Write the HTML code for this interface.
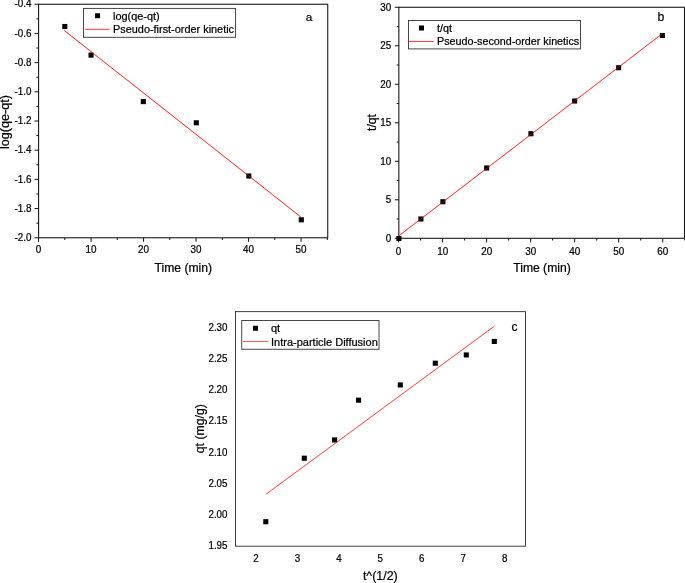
<!DOCTYPE html><html><head><meta charset="utf-8"><title>Kinetics</title>
<style>html,body{margin:0;padding:0;background:#fff}svg{display:block}text{font-family:"Liberation Sans",sans-serif;fill:#000;stroke:#000;stroke-width:0.22px}</style></head><body>
<svg width="685" height="583" viewBox="0 0 685 583">
<rect width="685" height="583" fill="#fff"/>
<rect x="38.60" y="4.23" width="289.15" height="233.54" fill="none" stroke="#111" stroke-width="1.05"/>
<line x1="38.55" y1="237.77" x2="38.55" y2="241.87" stroke="#111" stroke-width="1.0"/>
<text x="0" y="0" font-size="10.4" text-anchor="middle" transform="translate(38.55 253.37) scale(0.95 1)">0</text>
<line x1="91.05" y1="237.77" x2="91.05" y2="241.87" stroke="#111" stroke-width="1.0"/>
<text x="0" y="0" font-size="10.4" text-anchor="middle" transform="translate(91.05 253.37) scale(0.95 1)">10</text>
<line x1="143.55" y1="237.77" x2="143.55" y2="241.87" stroke="#111" stroke-width="1.0"/>
<text x="0" y="0" font-size="10.4" text-anchor="middle" transform="translate(143.55 253.37) scale(0.95 1)">20</text>
<line x1="196.05" y1="237.77" x2="196.05" y2="241.87" stroke="#111" stroke-width="1.0"/>
<text x="0" y="0" font-size="10.4" text-anchor="middle" transform="translate(196.05 253.37) scale(0.95 1)">30</text>
<line x1="248.55" y1="237.77" x2="248.55" y2="241.87" stroke="#111" stroke-width="1.0"/>
<text x="0" y="0" font-size="10.4" text-anchor="middle" transform="translate(248.55 253.37) scale(0.95 1)">40</text>
<line x1="301.05" y1="237.77" x2="301.05" y2="241.87" stroke="#111" stroke-width="1.0"/>
<text x="0" y="0" font-size="10.4" text-anchor="middle" transform="translate(301.05 253.37) scale(0.95 1)">50</text>
<line x1="64.80" y1="237.77" x2="64.80" y2="239.97" stroke="#111" stroke-width="1.0"/>
<line x1="117.30" y1="237.77" x2="117.30" y2="239.97" stroke="#111" stroke-width="1.0"/>
<line x1="169.80" y1="237.77" x2="169.80" y2="239.97" stroke="#111" stroke-width="1.0"/>
<line x1="222.30" y1="237.77" x2="222.30" y2="239.97" stroke="#111" stroke-width="1.0"/>
<line x1="274.80" y1="237.77" x2="274.80" y2="239.97" stroke="#111" stroke-width="1.0"/>
<line x1="327.30" y1="237.77" x2="327.30" y2="239.97" stroke="#111" stroke-width="1.0"/>
<line x1="34.50" y1="4.23" x2="38.60" y2="4.23" stroke="#111" stroke-width="1.0"/>
<text x="0" y="0" font-size="10.4" text-anchor="end" transform="translate(31.40 6.63) scale(0.95 1)">-0.4</text>
<line x1="34.50" y1="33.42" x2="38.60" y2="33.42" stroke="#111" stroke-width="1.0"/>
<text x="0" y="0" font-size="10.4" text-anchor="end" transform="translate(31.40 36.72) scale(0.95 1)">-0.6</text>
<line x1="34.50" y1="62.61" x2="38.60" y2="62.61" stroke="#111" stroke-width="1.0"/>
<text x="0" y="0" font-size="10.4" text-anchor="end" transform="translate(31.40 65.91) scale(0.95 1)">-0.8</text>
<line x1="34.50" y1="91.81" x2="38.60" y2="91.81" stroke="#111" stroke-width="1.0"/>
<text x="0" y="0" font-size="10.4" text-anchor="end" transform="translate(31.40 95.11) scale(0.95 1)">-1.0</text>
<line x1="34.50" y1="121.00" x2="38.60" y2="121.00" stroke="#111" stroke-width="1.0"/>
<text x="0" y="0" font-size="10.4" text-anchor="end" transform="translate(31.40 124.30) scale(0.95 1)">-1.2</text>
<line x1="34.50" y1="150.19" x2="38.60" y2="150.19" stroke="#111" stroke-width="1.0"/>
<text x="0" y="0" font-size="10.4" text-anchor="end" transform="translate(31.40 153.49) scale(0.95 1)">-1.4</text>
<line x1="34.50" y1="179.38" x2="38.60" y2="179.38" stroke="#111" stroke-width="1.0"/>
<text x="0" y="0" font-size="10.4" text-anchor="end" transform="translate(31.40 182.68) scale(0.95 1)">-1.6</text>
<line x1="34.50" y1="208.57" x2="38.60" y2="208.57" stroke="#111" stroke-width="1.0"/>
<text x="0" y="0" font-size="10.4" text-anchor="end" transform="translate(31.40 211.87) scale(0.95 1)">-1.8</text>
<line x1="34.50" y1="237.77" x2="38.60" y2="237.77" stroke="#111" stroke-width="1.0"/>
<text x="0" y="0" font-size="10.4" text-anchor="end" transform="translate(31.40 241.07) scale(0.95 1)">-2.0</text>
<line x1="36.40" y1="18.83" x2="38.60" y2="18.83" stroke="#111" stroke-width="1.0"/>
<line x1="36.40" y1="48.02" x2="38.60" y2="48.02" stroke="#111" stroke-width="1.0"/>
<line x1="36.40" y1="77.21" x2="38.60" y2="77.21" stroke="#111" stroke-width="1.0"/>
<line x1="36.40" y1="106.40" x2="38.60" y2="106.40" stroke="#111" stroke-width="1.0"/>
<line x1="36.40" y1="135.59" x2="38.60" y2="135.59" stroke="#111" stroke-width="1.0"/>
<line x1="36.40" y1="164.79" x2="38.60" y2="164.79" stroke="#111" stroke-width="1.0"/>
<line x1="36.40" y1="193.98" x2="38.60" y2="193.98" stroke="#111" stroke-width="1.0"/>
<line x1="36.40" y1="223.17" x2="38.60" y2="223.17" stroke="#111" stroke-width="1.0"/>
<line x1="64.25" y1="30.50" x2="300.90" y2="217.00" stroke="#ff3a3a" stroke-width="1"/>
<rect x="62.25" y="23.95" width="5.1" height="5.1" fill="#000"/>
<rect x="88.50" y="52.55" width="5.1" height="5.1" fill="#000"/>
<rect x="140.75" y="99.05" width="5.1" height="5.1" fill="#000"/>
<rect x="193.75" y="120.25" width="5.1" height="5.1" fill="#000"/>
<rect x="246.25" y="173.45" width="5.1" height="5.1" fill="#000"/>
<rect x="298.75" y="217.25" width="5.1" height="5.1" fill="#000"/>
<line x1="64.25" y1="30.50" x2="300.90" y2="217.00" stroke="#ff3a3a" stroke-width="1" stroke-opacity="0.4"/>
<rect x="83.50" y="8.40" width="152.10" height="28.90" fill="#fff" stroke="#333" stroke-width="0.9"/>
<rect x="95.05" y="13.25" width="5.0" height="5.0" fill="#000"/>
<line x1="85.00" y1="29.30" x2="109.50" y2="29.30" stroke="#ff3a3a" stroke-width="1"/>
<text x="113.00" y="19.70" font-size="10.9" text-anchor="start">log(qe-qt)</text>
<text x="113.00" y="33.30" font-size="10.9" text-anchor="start">Pseudo-first-order kinetic</text>
<text x="305.80" y="21.00" font-size="11.8" text-anchor="start">a</text>
<text x="183.30" y="272.00" font-size="12.15" text-anchor="middle">Time (min)</text>
<text x="0" y="0" font-size="12.4" text-anchor="middle" transform="translate(8.90 122.00) rotate(-90) scale(1.02 1)">log(qe-qt)</text>
<rect x="398.85" y="7.27" width="285.65" height="231.03" fill="none" stroke="#111" stroke-width="1.05"/>
<line x1="398.60" y1="238.30" x2="398.60" y2="242.40" stroke="#111" stroke-width="1.0"/>
<text x="0" y="0" font-size="10.4" text-anchor="middle" transform="translate(398.60 254.60) scale(0.95 1)">0</text>
<line x1="442.62" y1="238.30" x2="442.62" y2="242.40" stroke="#111" stroke-width="1.0"/>
<text x="0" y="0" font-size="10.4" text-anchor="middle" transform="translate(442.62 254.60) scale(0.95 1)">10</text>
<line x1="486.64" y1="238.30" x2="486.64" y2="242.40" stroke="#111" stroke-width="1.0"/>
<text x="0" y="0" font-size="10.4" text-anchor="middle" transform="translate(486.64 254.60) scale(0.95 1)">20</text>
<line x1="530.66" y1="238.30" x2="530.66" y2="242.40" stroke="#111" stroke-width="1.0"/>
<text x="0" y="0" font-size="10.4" text-anchor="middle" transform="translate(530.66 254.60) scale(0.95 1)">30</text>
<line x1="574.68" y1="238.30" x2="574.68" y2="242.40" stroke="#111" stroke-width="1.0"/>
<text x="0" y="0" font-size="10.4" text-anchor="middle" transform="translate(574.68 254.60) scale(0.95 1)">40</text>
<line x1="618.70" y1="238.30" x2="618.70" y2="242.40" stroke="#111" stroke-width="1.0"/>
<text x="0" y="0" font-size="10.4" text-anchor="middle" transform="translate(618.70 254.60) scale(0.95 1)">50</text>
<line x1="662.72" y1="238.30" x2="662.72" y2="242.40" stroke="#111" stroke-width="1.0"/>
<text x="0" y="0" font-size="10.4" text-anchor="middle" transform="translate(662.72 254.60) scale(0.95 1)">60</text>
<line x1="420.61" y1="238.30" x2="420.61" y2="240.50" stroke="#111" stroke-width="1.0"/>
<line x1="464.63" y1="238.30" x2="464.63" y2="240.50" stroke="#111" stroke-width="1.0"/>
<line x1="508.65" y1="238.30" x2="508.65" y2="240.50" stroke="#111" stroke-width="1.0"/>
<line x1="552.67" y1="238.30" x2="552.67" y2="240.50" stroke="#111" stroke-width="1.0"/>
<line x1="596.69" y1="238.30" x2="596.69" y2="240.50" stroke="#111" stroke-width="1.0"/>
<line x1="640.71" y1="238.30" x2="640.71" y2="240.50" stroke="#111" stroke-width="1.0"/>
<line x1="684.73" y1="238.30" x2="684.73" y2="240.50" stroke="#111" stroke-width="1.0"/>
<line x1="394.75" y1="238.30" x2="398.85" y2="238.30" stroke="#111" stroke-width="1.0"/>
<text x="0" y="0" font-size="10.4" text-anchor="end" transform="translate(391.20 241.60) scale(0.95 1)">0</text>
<line x1="394.75" y1="199.80" x2="398.85" y2="199.80" stroke="#111" stroke-width="1.0"/>
<text x="0" y="0" font-size="10.4" text-anchor="end" transform="translate(391.20 203.10) scale(0.95 1)">5</text>
<line x1="394.75" y1="161.29" x2="398.85" y2="161.29" stroke="#111" stroke-width="1.0"/>
<text x="0" y="0" font-size="10.4" text-anchor="end" transform="translate(391.20 164.59) scale(0.95 1)">10</text>
<line x1="394.75" y1="122.79" x2="398.85" y2="122.79" stroke="#111" stroke-width="1.0"/>
<text x="0" y="0" font-size="10.4" text-anchor="end" transform="translate(391.20 126.09) scale(0.95 1)">15</text>
<line x1="394.75" y1="84.28" x2="398.85" y2="84.28" stroke="#111" stroke-width="1.0"/>
<text x="0" y="0" font-size="10.4" text-anchor="end" transform="translate(391.20 87.58) scale(0.95 1)">20</text>
<line x1="394.75" y1="45.78" x2="398.85" y2="45.78" stroke="#111" stroke-width="1.0"/>
<text x="0" y="0" font-size="10.4" text-anchor="end" transform="translate(391.20 49.08) scale(0.95 1)">25</text>
<line x1="394.75" y1="7.27" x2="398.85" y2="7.27" stroke="#111" stroke-width="1.0"/>
<text x="0" y="0" font-size="10.4" text-anchor="end" transform="translate(391.20 10.57) scale(0.95 1)">30</text>
<line x1="396.65" y1="219.05" x2="398.85" y2="219.05" stroke="#111" stroke-width="1.0"/>
<line x1="396.65" y1="180.54" x2="398.85" y2="180.54" stroke="#111" stroke-width="1.0"/>
<line x1="396.65" y1="142.04" x2="398.85" y2="142.04" stroke="#111" stroke-width="1.0"/>
<line x1="396.65" y1="103.53" x2="398.85" y2="103.53" stroke="#111" stroke-width="1.0"/>
<line x1="396.65" y1="65.03" x2="398.85" y2="65.03" stroke="#111" stroke-width="1.0"/>
<line x1="396.65" y1="26.52" x2="398.85" y2="26.52" stroke="#111" stroke-width="1.0"/>
<line x1="398.60" y1="236.00" x2="662.50" y2="33.50" stroke="#ff3a3a" stroke-width="1"/>
<rect x="396.35" y="235.95" width="5.1" height="5.1" fill="#000"/>
<rect x="418.35" y="216.45" width="5.1" height="5.1" fill="#000"/>
<rect x="440.35" y="199.20" width="5.1" height="5.1" fill="#000"/>
<rect x="484.10" y="165.45" width="5.1" height="5.1" fill="#000"/>
<rect x="528.35" y="131.20" width="5.1" height="5.1" fill="#000"/>
<rect x="572.10" y="98.45" width="5.1" height="5.1" fill="#000"/>
<rect x="616.10" y="65.20" width="5.1" height="5.1" fill="#000"/>
<rect x="659.85" y="32.95" width="5.1" height="5.1" fill="#000"/>
<line x1="398.60" y1="236.00" x2="662.50" y2="33.50" stroke="#ff3a3a" stroke-width="1" stroke-opacity="0.4"/>
<rect x="408.50" y="20.50" width="172.00" height="28.40" fill="#fff" stroke="#333" stroke-width="0.9"/>
<rect x="419.00" y="25.50" width="5.0" height="5.0" fill="#000"/>
<line x1="408.90" y1="41.45" x2="433.80" y2="41.45" stroke="#ff3a3a" stroke-width="1"/>
<text x="437.00" y="32.20" font-size="10.75" text-anchor="start">t/qt</text>
<text x="437.00" y="45.20" font-size="10.75" text-anchor="start">Pseudo-second-order kinetics</text>
<text x="657.50" y="21.00" font-size="12.2" text-anchor="start">b</text>
<text x="542.00" y="272.20" font-size="12.15" text-anchor="middle">Time (min)</text>
<text x="0" y="0" font-size="12.2" text-anchor="middle" transform="translate(376.00 122.50) rotate(-90)">t/qt</text>
<rect x="235.50" y="311.65" width="290.00" height="234.55" fill="none" stroke="#2a2a2a" stroke-width="0.9"/>
<text x="0" y="0" font-size="10.3" text-anchor="middle" transform="translate(256.05 562.40) scale(0.95 1)">2</text>
<text x="0" y="0" font-size="10.3" text-anchor="middle" transform="translate(297.48 562.40) scale(0.95 1)">3</text>
<text x="0" y="0" font-size="10.3" text-anchor="middle" transform="translate(338.91 562.40) scale(0.95 1)">4</text>
<text x="0" y="0" font-size="10.3" text-anchor="middle" transform="translate(380.34 562.40) scale(0.95 1)">5</text>
<text x="0" y="0" font-size="10.3" text-anchor="middle" transform="translate(421.77 562.40) scale(0.95 1)">6</text>
<text x="0" y="0" font-size="10.3" text-anchor="middle" transform="translate(463.20 562.40) scale(0.95 1)">7</text>
<text x="0" y="0" font-size="10.3" text-anchor="middle" transform="translate(504.63 562.40) scale(0.95 1)">8</text>
<text x="0" y="0" font-size="10.3" text-anchor="end" transform="translate(227.50 549.35) scale(0.95 1)">1.95</text>
<text x="0" y="0" font-size="10.3" text-anchor="end" transform="translate(227.50 518.14) scale(0.95 1)">2.00</text>
<text x="0" y="0" font-size="10.3" text-anchor="end" transform="translate(227.50 486.93) scale(0.95 1)">2.05</text>
<text x="0" y="0" font-size="10.3" text-anchor="end" transform="translate(227.50 455.71) scale(0.95 1)">2.10</text>
<text x="0" y="0" font-size="10.3" text-anchor="end" transform="translate(227.50 424.49) scale(0.95 1)">2.15</text>
<text x="0" y="0" font-size="10.3" text-anchor="end" transform="translate(227.50 393.28) scale(0.95 1)">2.20</text>
<text x="0" y="0" font-size="10.3" text-anchor="end" transform="translate(227.50 362.06) scale(0.95 1)">2.25</text>
<text x="0" y="0" font-size="10.3" text-anchor="end" transform="translate(227.50 330.85) scale(0.95 1)">2.30</text>
<line x1="266.20" y1="494.10" x2="494.25" y2="326.25" stroke="#ff3a3a" stroke-width="0.85"/>
<rect x="263.25" y="519.15" width="5.1" height="5.1" fill="#000"/>
<rect x="301.75" y="455.65" width="5.1" height="5.1" fill="#000"/>
<rect x="332.00" y="437.40" width="5.1" height="5.1" fill="#000"/>
<rect x="356.00" y="397.65" width="5.1" height="5.1" fill="#000"/>
<rect x="397.75" y="382.40" width="5.1" height="5.1" fill="#000"/>
<rect x="432.75" y="360.65" width="5.1" height="5.1" fill="#000"/>
<rect x="463.75" y="352.40" width="5.1" height="5.1" fill="#000"/>
<rect x="491.75" y="338.90" width="5.1" height="5.1" fill="#000"/>
<line x1="266.20" y1="494.10" x2="494.25" y2="326.25" stroke="#ff3a3a" stroke-width="0.85" stroke-opacity="0.4"/>
<rect x="241.75" y="320.50" width="137.25" height="28.75" fill="#fff" stroke="#333" stroke-width="0.9"/>
<rect x="253.00" y="325.75" width="5.0" height="5.0" fill="#000"/>
<line x1="243.00" y1="341.50" x2="268.30" y2="341.50" stroke="#ff3a3a" stroke-width="0.85"/>
<text x="271.00" y="332.00" font-size="11.0" text-anchor="start">qt</text>
<text x="271.00" y="345.50" font-size="11.0" text-anchor="start">Intra-particle Diffusion</text>
<text x="511.50" y="331.40" font-size="12.0" text-anchor="start">c</text>
<text x="380.30" y="580.00" font-size="12.4" text-anchor="middle">t^(1/2)</text>
<text x="0" y="0" font-size="13.2" text-anchor="middle" transform="translate(203.50 428.70) rotate(-90) scale(0.93 1)">qt (mg/g)</text>
</svg></body></html>
